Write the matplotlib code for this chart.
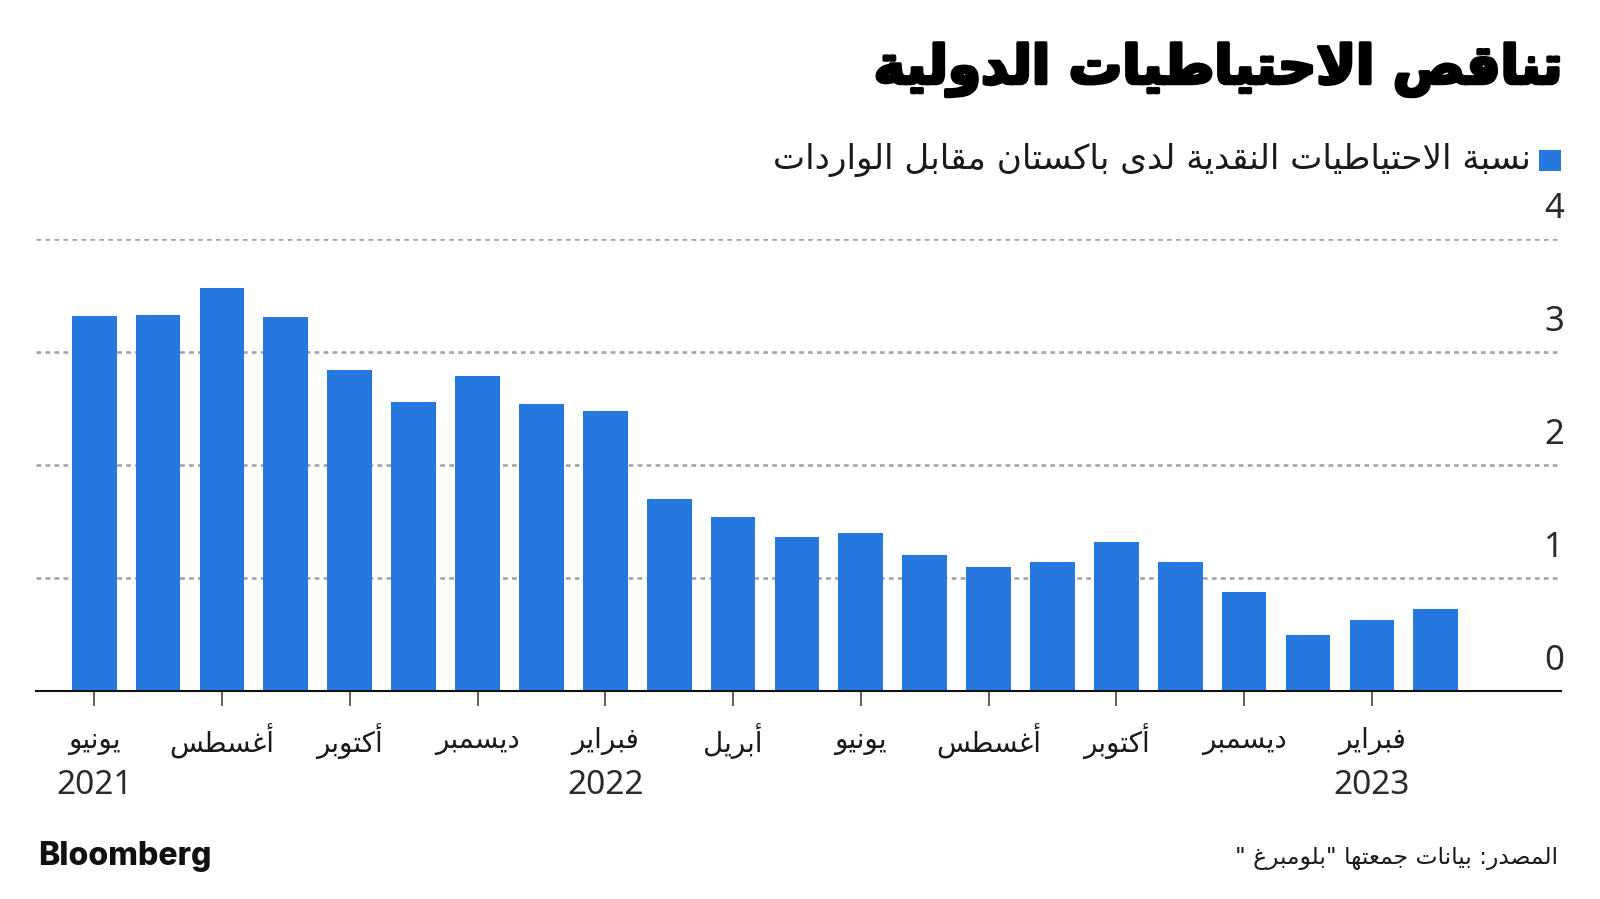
import matplotlib
matplotlib.use("Agg")
import matplotlib.pyplot as plt
import matplotlib.transforms as mtransforms
import matplotlib.patheffects as pe
from matplotlib.patches import Rectangle

# ---------------- data ----------------
months = ["يونيو", "يوليو", "أغسطس", "سبتمبر", "أكتوبر", "نوفمبر", "ديسمبر",
          "يناير", "فبراير", "مارس", "أبريل", "مايو", "يونيو", "يوليو",
          "أغسطس", "سبتمبر", "أكتوبر", "نوفمبر", "ديسمبر", "يناير",
          "فبراير", "مارس"]
values = [3.32, 3.33, 3.57, 3.31, 2.84, 2.56, 2.79, 2.54, 2.48, 1.70, 1.54,
          1.36, 1.40, 1.20, 1.10, 1.14, 1.32, 1.14, 0.88, 0.50, 0.63, 0.73]
year_labels = {0: "2021", 8: "2022", 20: "2023"}
y_ticks = [0, 1, 2, 3, 4]

title = "تناقص الاحتياطيات الدولية"
legend_label = "نسبة الاحتياطيات النقدية لدى باكستان مقابل الواردات"
source = 'المصدر: بيانات جمعتها "بلومبرغ "'
brand = "Bloomberg"

BLUE = "#2778DE"

# ---------------- Arabic shaping (presentation forms + visual order) ----
_seq = [('\u0621', 1), ('\u0622', 2), ('\u0623', 2), ('\u0624', 2), ('\u0625', 2),
        ('\u0626', 4), ('\u0627', 2), ('\u0628', 4), ('\u0629', 2), ('\u062A', 4),
        ('\u062B', 4), ('\u062C', 4), ('\u062D', 4), ('\u062E', 4), ('\u062F', 2),
        ('\u0630', 2), ('\u0631', 2), ('\u0632', 2), ('\u0633', 4), ('\u0634', 4),
        ('\u0635', 4), ('\u0636', 4), ('\u0637', 4), ('\u0638', 4), ('\u0639', 4),
        ('\u063A', 4), ('\u0641', 4), ('\u0642', 4), ('\u0643', 4), ('\u0644', 4),
        ('\u0645', 4), ('\u0646', 4), ('\u0647', 4), ('\u0648', 2), ('\u0649', 2),
        ('\u064A', 4)]
_BASE = {}
_code = 0xFE80
for _ch, _n in _seq:
    _BASE[_ch] = (_code, _n)
    _code += _n
_LAMALEF = {'\u0622': 0xFEF5, '\u0623': 0xFEF7, '\u0625': 0xFEF9, '\u0627': 0xFEFB}


def _dual(c):
    return c in _BASE and _BASE[c][1] == 4


def _joinable(c):
    return c in _BASE and _BASE[c][1] > 1


def ar(s):
    out = []
    i, n = 0, len(s)
    while i < n:
        c = s[i]
        if c not in _BASE:
            out.append(c)
            i += 1
            continue
        prev = s[i - 1] if i > 0 else ''
        jp = _dual(prev)
        if c == '\u0644' and i + 1 < n and s[i + 1] in _LAMALEF:
            out.append(chr(_LAMALEF[s[i + 1]] + (1 if jp else 0)))
            i += 2
            continue
        nxt = s[i + 1] if i + 1 < n else ''
        jn = _dual(c) and _joinable(nxt)
        code, cnt = _BASE[c]
        if cnt == 1:
            form = 0
        elif jp and jn:
            form = 3
        elif jp:
            form = 1
        elif jn:
            form = 2
        else:
            form = 0
        out.append(chr(code + form))
        i += 1
    runs, cur = [], ''
    for ch in out:
        if ch.isascii() and ch.isalnum():
            cur += ch
        else:
            if cur:
                runs.append(cur)
                cur = ''
            runs.append(ch)
    if cur:
        runs.append(cur)
    return ''.join(reversed(runs))


# ---------------- figure ----------------
W, H = 1600, 899
fig = plt.figure(figsize=(W / 100, H / 100), dpi=100)
fig.patch.set_facecolor("white")


def fx(px):
    return px / W


def fy(py):
    return 1 - py / H


ax_left, ax_right, ax_top, ax_bot = 36, 1561, 239, 691
ax = fig.add_axes([fx(ax_left), fy(ax_bot), (ax_right - ax_left) / W, (ax_bot - ax_top) / H])
ax.set_facecolor("white")

x = list(range(len(values)))
ax.bar(x, values, width=0.70, color=BLUE, zorder=2)
ax.set_xlim(-0.911, 22.96)
ax.set_ylim(0, 4)

for s in ["top", "left", "right"]:
    ax.spines[s].set_visible(False)
ax.spines["bottom"].set_color("#111111")
ax.spines["bottom"].set_linewidth(1.5)
ax.spines["bottom"].set_zorder(3)

ax.set_yticks(y_ticks)
ax.yaxis.grid(True, color="#a4a4a4", linewidth=1.9, linestyle=(0, (1.8, 1.6)))
ax.tick_params(axis="y", length=0, labelleft=False)
ax.set_axisbelow(True)

ax.set_xticks(x[::2])
ax.set_xticklabels([])
ax.tick_params(axis="x", length=11, width=1.1, color="#333333", direction="out")

# month labels
tr_mx = mtransforms.blended_transform_factory(ax.transData, fig.transFigure)
for i in x[::2]:
    fig.text(i, fy(741), ar(months[i]), transform=tr_mx, ha="center", va="center",
             fontsize=20, family="DejaVu Sans", color="#1a1a1a")
for i, yl in year_labels.items():
    fig.text(i, fy(786), yl, transform=tr_mx, ha="center", va="center",
             fontsize=24, family="Noto Sans", color="#2a2a2a")

# y labels above gridlines at right
tr_y = mtransforms.blended_transform_factory(fig.transFigure, ax.transData)
tr_y = mtransforms.offset_copy(tr_y, fig=fig, x=0, y=21, units="dots")
for v in y_ticks:
    fig.text(fx(1564), v, str(v), transform=tr_y, ha="right", va="baseline",
             fontsize=25, family="Noto Sans", color="#2a2a2a")

# title
t_title = fig.text(fx(1563), fy(70), ar(title), ha="right", va="center",
                   fontsize=38, family="DejaVu Sans", weight="bold", color="#000000",
                   path_effects=[pe.withStroke(linewidth=2.5, foreground="#000000")])

# legend
fig.patches.append(Rectangle((fx(1539), fy(171)), 22 / W, 21 / H, transform=fig.transFigure,
                             facecolor=BLUE, edgecolor="none"))
t_leg = fig.text(fx(1531), fy(160), ar(legend_label), ha="right", va="center",
                 fontsize=22, family="DejaVu Sans", color="#1a1a1a")

# footer
t_src = fig.text(fx(1558), fy(859), ar(source), ha="right", va="center",
                 fontsize=15, family="DejaVu Sans", color="#1a1a1a")
t_brand = fig.text(fx(38), fy(865), brand, ha="left", va="baseline",
                   fontsize=22, family="Inter", weight="heavy", color="#111111")

# fit a few texts to reference widths
fig.canvas.draw()
renderer = fig.canvas.get_renderer()
for t, target in [(t_title, 688), (t_leg, 761), (t_src, 325), (t_brand, 174)]:
    w = t.get_window_extent(renderer).width
    t.set_fontsize(t.get_fontsize() * target / w)

fig.savefig("out.png", dpi=100, facecolor="white")
